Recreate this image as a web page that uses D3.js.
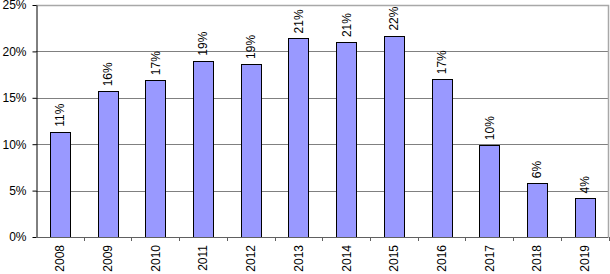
<!DOCTYPE html>
<html>
<head>
<meta charset="utf-8">
<script src="https://cdn.jsdelivr.net/npm/d3@7"></script>
<style>
  body { margin: 0; background: #fff; }
  svg { display: block; font-family: "Liberation Sans", Arial, sans-serif; }
</style>
</head>
<body>
<div id="chart"></div>
<script>
const years = ["2008", "2009", "2010", "2011", "2012", "2013", "2014", "2015", "2016", "2017", "2018", "2019"];
const shares = [11.35, 15.7, 16.9, 19.0, 18.65, 21.4, 21.0, 21.7, 17.0, 9.9, 5.8, 4.15];
const labels = ["11%", "16%", "17%", "19%", "19%", "21%", "21%", "22%", "17%", "10%", "6%", "4%"];
const yTicks = [0, 5, 10, 15, 20, 25];

const width = 610, height = 274;
const plotLeft = 36, plotRight = 608.5, plotTop = 5, plotBottom = 237;

const svg = d3.select("#chart").append("svg")
    .attr("width", width)
    .attr("height", height);

let x = d3.scaleBand().domain(years).range([plotLeft, plotRight]).paddingInner(0.58).paddingOuter(0.29);
let y = d3.scaleLinear().domain([0, 25]).range([plotBottom, plotTop]);

// gridlines
svg.append("g").selectAll("line")
    .data(yTicks.filter(d => d > 0 && d < 25))
    .join("line")
    .attr("x1", plotLeft).attr("x2", plotRight)
    .attr("y1", d => Math.round(y(d)) + 0.5).attr("y2", d => Math.round(y(d)) + 0.5)
    .attr("stroke", "#808080");

// plot frame (top and right)
svg.append("path")
    .attr("d", `M${plotLeft},${plotTop + 0.5}H${plotRight}V${plotBottom}`)
    .attr("fill", "none")
    .attr("stroke", "#a8a8a8")
    .attr("stroke-width", 1.5);

// bars
svg.append("g").selectAll("rect")
    .data(years)
    .join("rect")
    .attr("x", d => Math.round(x(d)) + 0.5)
    .attr("y", (d, i) => Math.round(y(shares[i])) + 0.5)
    .attr("width", Math.round(x.bandwidth()))
    .attr("height", (d, i) => Math.round(plotBottom - y(shares[i])))
    .attr("fill", "#9999ff")
    .attr("stroke", "#000");

// value labels
svg.append("g").selectAll("text")
    .data(years)
    .join("text")
    .attr("transform", (d, i) => `translate(${x(d) + x.bandwidth() / 2 + 4.5},${y(shares[i]) - 5}) rotate(-90)`)
    .attr("font-size", 12)
    .attr("fill", "#000")
    .text((d, i) => labels[i]);

// y axis
const yAxis = svg.append("g")
    .attr("transform", `translate(${plotLeft + 0.5},0)`)
    .call(d3.axisLeft(y).tickValues(yTicks).tickFormat(d => d + "%").tickSize(4).tickSizeOuter(0));
yAxis.select(".domain").attr("stroke", "#000");
yAxis.selectAll(".tick line").attr("stroke", "#000");
yAxis.selectAll("text").attr("font-size", 12).attr("font-family", "Liberation Sans, Arial, sans-serif").attr("dx", -3).attr("fill", "#000");

// x axis
const boundaries = d3.range(years.length + 1).map(i => plotLeft + i * (plotRight - plotLeft) / years.length);
svg.append("line")
    .attr("x1", plotLeft).attr("x2", plotRight)
    .attr("y1", plotBottom + 0.5).attr("y2", plotBottom + 0.5)
    .attr("stroke", "#606060");
svg.append("g").selectAll("line")
    .data(boundaries.slice(1))
    .join("line")
    .attr("x1", d => Math.round(d) + 0.5).attr("x2", d => Math.round(d) + 0.5)
    .attr("y1", plotBottom).attr("y2", plotBottom + 4)
    .attr("stroke", "#606060");

svg.append("g").selectAll("text")
    .data(years)
    .join("text")
    .attr("transform", d => `translate(${x(d) + x.bandwidth() / 2 + 4.5},${plotBottom + 8}) rotate(-90)`)
    .attr("text-anchor", "end")
    .attr("font-size", 12)
    .attr("fill", "#000")
    .text(d => d);
</script>
</body>
</html>
